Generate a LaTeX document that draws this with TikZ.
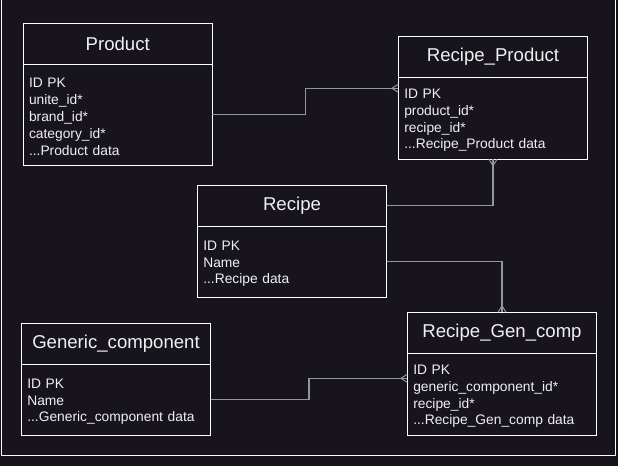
\documentclass[tikz,border=0pt]{standalone}
\usepackage{fontspec}
\setmainfont{Liberation Sans}
\usetikzlibrary{calc,positioning}
\definecolor{bgdark}{RGB}{24,20,29}
\definecolor{linkgray}{RGB}{150,150,150}
\definecolor{txtlight}{RGB}{240,240,240}
\tikzset{crowfoot/.pic={\draw[linkgray,line width=1pt] (-6.5,0) -- (0,4) (-6.5,0) -- (0,-4);}}

\begin{document}
\begin{tikzpicture}[x=1pt,y=-1pt,
    header/.style={draw=white,line width=1pt,outer sep=0pt,inner sep=0pt,
        minimum width=189.4pt,minimum height=41pt,anchor=north west,
        text=txtlight,font=\fontsize{18.6}{22}\selectfont},
    fields/.style={draw=white,line width=1pt,outer sep=0pt,inner xsep=6pt,inner ysep=0pt,
        text width=177.4pt,align=left,text=txtlight,font=\fontsize{13.8}{16.8}\selectfont,
        execute at begin node={\rule{0pt}{13.6pt}}},
    link/.style={draw=linkgray,line width=1.2pt}]
    \useasboundingbox (0,0) rectangle (618,466);
    \fill[bgdark] (0,0) rectangle (618,466);
    \draw[white,line width=1pt] (1,-1) -- (1,455.5) -- (615.5,455.5) -- (615.5,-1);

    % entities
    \node[header] (prodhead) at (23,23.3) {Product};
    \node[fields,below=0pt of prodhead,minimum height=101pt] (prod)
        {ID PK\\unite\_id*\\brand\_id*\\category\_id*\\...Product data};

    \node[header] (rphead) at (398.3,36.3) {Recipe\_Product};
    \node[fields,below=0pt of rphead,minimum height=82pt] (rp)
        {ID PK\\product\_id*\\recipe\_id*\\...Recipe\_Product data};

    \node[header] (recipehead) at (197.3,185.3) {Recipe};
    \node[fields,below=0pt of recipehead,minimum height=71pt] (recipe)
        {ID PK\\Name\\...Recipe data};

    \node[header] (gchead) at (21.3,323.3) {Generic\_component};
    \node[fields,below=0pt of gchead,minimum height=71pt] (gc)
        {ID PK\\Name\\...Generic\_component data};

    \node[header] (rgchead) at (407.3,312.3) {Recipe\_Gen\_comp};
    \node[fields,below=0pt of rgchead,minimum height=82pt] (rgc)
        {ID PK\\generic\_component\_id*\\recipe\_id*\\...Recipe\_Gen\_comp data};

    % links
    \coordinate (rpin) at ($(rp.north west)+(0,11)$);
    \coordinate (rgcin) at ($(rgc.north west)+(0,25)$);

    \draw[link] (prod.east) -| ($(prod.east)!.5!(rpin)$) |- (rpin);
    \draw[link] (recipehead.east) -| (rp.south);
    \draw[link] (recipe.east) -| (rgchead.north);
    \draw[link] (gc.east) -| ($(gc.east)!.5!(rgcin)$) |- (rgcin);

    \pic at (rpin) {crowfoot};
    \pic[rotate=90] at (rp.south) {crowfoot};
    \pic[rotate=-90] at (rgchead.north) {crowfoot};
    \pic at (rgcin) {crowfoot};
\end{tikzpicture}
\end{document}
